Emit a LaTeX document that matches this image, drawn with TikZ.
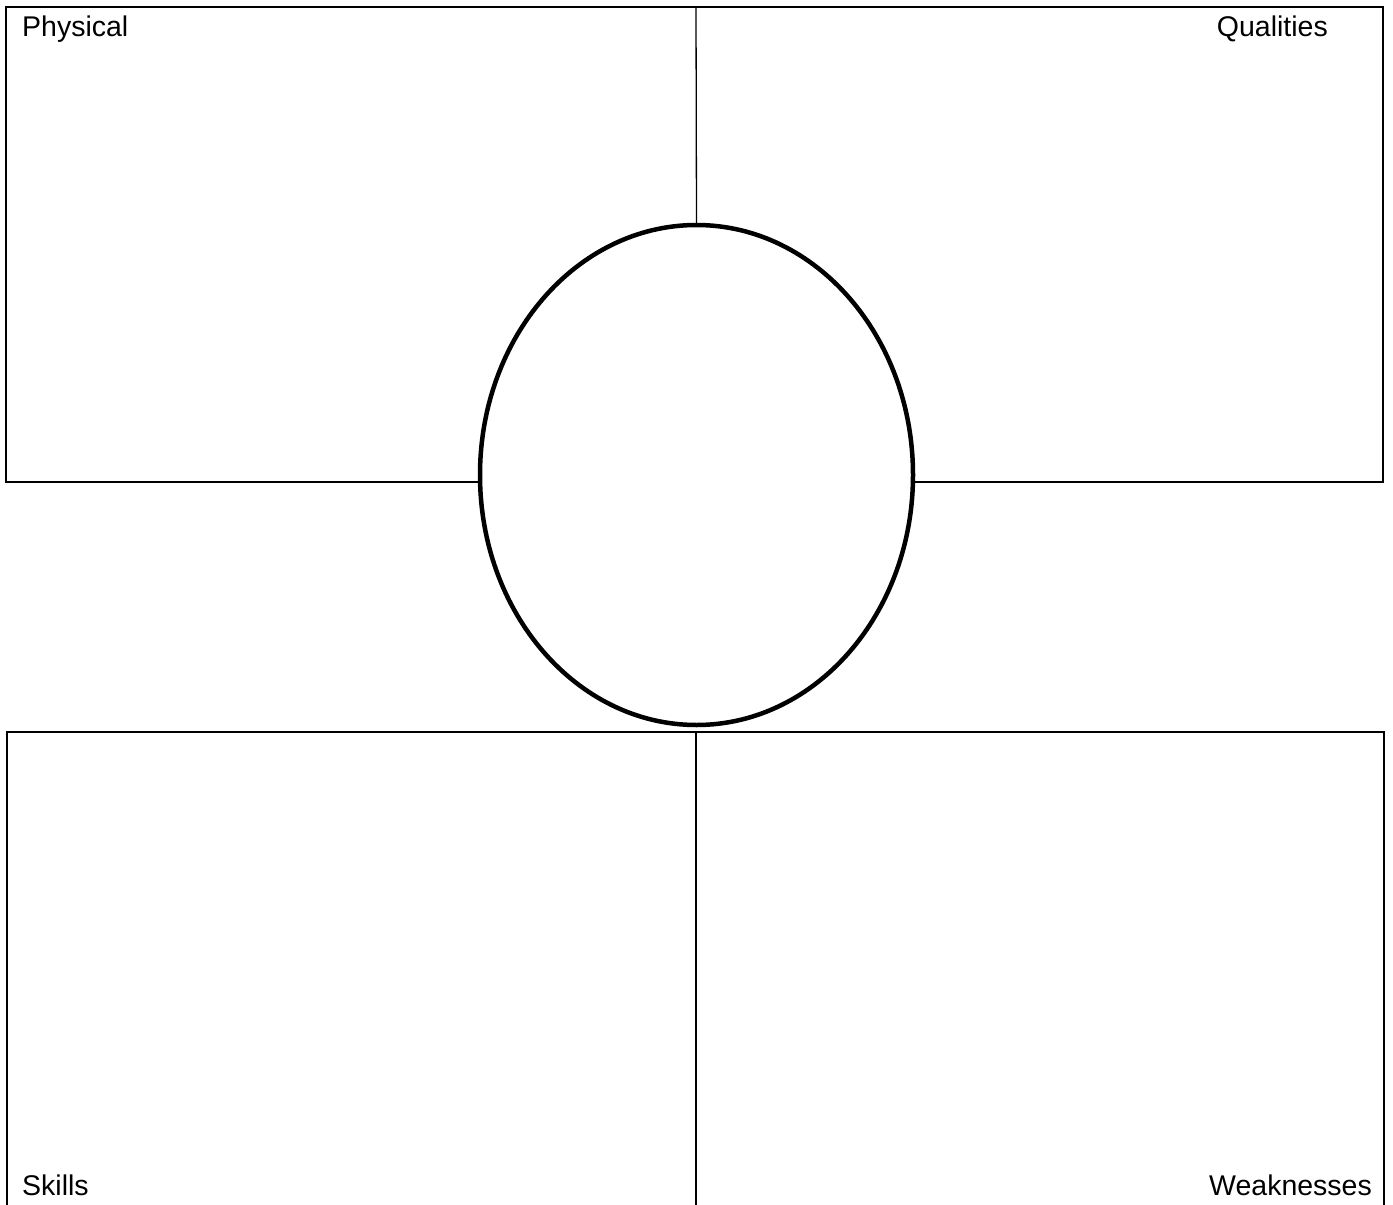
\documentclass[tikz,border=0pt]{standalone}
\usepackage{fontspec}
\setmainfont{Liberation Sans}
\usetikzlibrary{shapes.geometric}
\tikzset{
    label text/.style={font=\fontsize{28.5}{34}\selectfont, inner sep=0pt},
    centre ring/.style={ellipse, draw, line width=4.5pt, minimum width=433, minimum height=500, inner sep=0pt, outer sep=0pt}
}
\begin{document}
\begin{tikzpicture}[x=1pt, y=-1pt]
    \useasboundingbox (0,0) rectangle (1393,1205);

    % Centre ellipse
    \node[centre ring] (ring) at (696.5, 475) {};

    % Top boxes
    \draw[line width=1.3pt] (ring.west |- {(0,482)}) -- (6, 482) -- (6, 7) -- (1383, 7) -- (1383, 482) -- (ring.east |- {(0,482)});
    \draw[line width=1.3pt] (696, 7) -- (ring.north);
    \node[label text, anchor=base west] (physical) at (22, 36) {Physical};
    \node[label text, anchor=base east] (qualities) at (1328, 36) {Qualities};

    % Bottom boxes
    \draw[line width=2pt] (7, 1205) -- (7, 732) -- (1384, 732) -- (1384, 1205);
    \draw[line width=2pt] (696, 732) -- (696, 1205);
    \node[label text, anchor=base west] (skills) at (22, 1195) {Skills};
    \node[label text, anchor=base east] (weaknesses) at (1372, 1195) {Weaknesses};
\end{tikzpicture}
\end{document}
